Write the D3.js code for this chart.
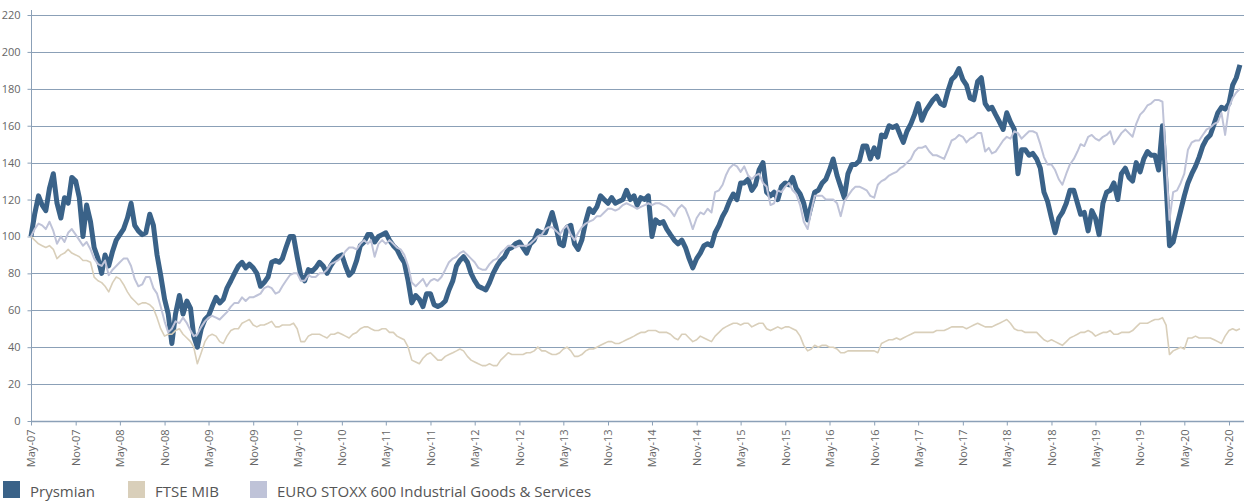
<!DOCTYPE html>
<html>
<head>
<meta charset="utf-8">
<script src="https://cdn.jsdelivr.net/npm/d3@7/dist/d3.min.js"></script>
<style>
    body { margin: 0; background: #fff; }
    text { font-family: "Open Sans", sans-serif; }
</style>
</head>
<body>
<div id="chart"></div>
<script>
const prysmian = [
    100,112,122,117,114,126,134,118,110,121,118,132,130,121,100,117,108,94,88,80,
    90,84,92,98,101,104,110,118,106,103,101,102,112,106,90,79,66,58,42,58,
    68,58,65,61,46,40,50,55,57,62,67,64,66,72,76,80,
    84,86,83,85,83,80,73,75,78,86,87,86,88,94,100,100,89,79,76,82,
    81,83,86,84,80,84,87,89,90,84,79,81,87,95,97,101,101,97,100,101,
    102,98,95,93,89,86,76,64,68,66,62,69,69,63,62,63,
    65,71,76,84,87,89,86,80,76,73,72,71,75,80,84,87,89,93,94,96,
    97,94,91,96,98,103,102,102,107,113,105,96,95,105,106,96,93,98,108,115,
    113,116,122,120,118,121,118,119,120,125,120,122,117,121,120,122,
    100,109,107,108,104,101,98,96,98,94,88,83,88,91,95,96,95,102,106,111,
    114,119,123,120,129,129,131,125,128,136,140,124,122,124,120,127,129,128,132,126,
    123,118,109,117,124,125,129,131,136,142,133,127,121,134,
    139,139,141,149,149,142,148,143,155,154,160,159,160,155,151,157,161,166,172,163,
    168,171,174,176,172,171,179,185,187,191,185,182,175,174,184,186,172,169,170,166,
    162,158,167,162,158,134,147,147,144,145,142,137,124,119,
    110,102,110,113,118,125,125,118,112,113,103,114,110,101,118,124,125,129,120,134,
    137,132,130,140,135,142,146,144,144,136,160,128,95,97,106,114,122,129,134,138,
    143,149,153,155,161,167,170,169,172,182,186,193
];

const ftseMib = [
    100,98,96,95,94,95,93,88,90,91,93,91,90,89,87,87,86,78,76,75,
    73,70,75,78,77,74,70,67,65,63,64,64,63,61,56,50,46,47,47,49,
    50,47,45,43,40,31,37,43,46,47,46,43,42,46,49,50,
    50,53,54,55,52,51,52,52,53,54,51,51,52,52,52,53,50,43,43,46,
    47,47,47,46,45,47,47,48,47,46,45,47,48,50,51,51,50,49,49,50,
    50,48,48,46,45,44,40,33,32,31,34,36,37,35,33,33,
    35,36,37,38,39,38,35,33,32,31,30,30,31,30,30,33,35,37,36,36,
    36,36,37,37,38,40,38,38,37,36,36,37,39,40,38,35,35,36,38,39,
    39,40,41,42,43,43,42,42,43,44,45,46,47,48,48,49,
    49,49,48,48,48,47,45,44,47,47,45,43,44,46,45,44,43,46,48,50,
    51,52,53,53,52,53,53,51,52,53,53,50,49,50,51,50,51,51,50,49,
    46,41,38,39,41,40,41,41,40,40,39,37,37,38,
    38,38,38,38,38,38,38,37,42,43,44,44,45,44,45,46,47,48,48,48,
    48,48,48,49,49,49,50,51,51,51,51,50,51,52,53,52,51,51,51,52,
    53,54,55,53,50,49,49,48,48,48,48,46,44,43,
    44,43,42,41,43,45,46,47,48,48,49,48,46,47,48,48,49,47,47,48,
    48,48,49,51,53,53,53,54,55,55,56,52,36,38,39,40,39,45,45,46,
    45,45,45,45,44,43,42,46,49,50,49,50
];

const euroStoxx = [
    100,104,107,106,104,108,103,96,100,97,102,104,101,98,95,97,93,88,85,84,
    87,79,82,84,86,88,88,84,77,73,74,78,78,72,69,62,54,48,50,54,
    53,56,53,49,46,47,51,54,56,57,56,55,57,59,62,64,
    64,67,65,67,67,68,69,72,73,72,69,70,73,76,79,80,80,76,76,79,
    78,78,80,80,82,85,86,87,89,92,94,94,93,96,98,96,98,89,96,98,
    96,98,96,94,93,90,84,75,73,75,77,73,76,77,76,78,
    82,86,88,89,91,92,90,88,86,83,82,82,85,87,88,91,93,95,95,94,
    95,95,95,96,98,100,101,104,105,105,103,101,104,106,101,98,102,105,107,108,
    109,111,111,113,115,115,114,115,117,118,117,116,115,116,117,118,
    117,118,118,117,116,114,111,115,117,115,110,104,110,113,112,115,113,124,125,128,
    133,137,139,138,135,138,133,131,133,134,129,127,117,118,125,124,127,129,125,123,
    117,108,104,114,122,122,122,120,120,120,118,111,119,122,
    125,127,127,126,125,122,121,128,130,131,133,134,135,137,138,140,142,146,148,148,
    149,146,144,144,143,142,147,152,153,155,154,151,153,154,156,156,146,148,145,146,
    149,152,154,153,157,156,153,155,157,157,156,150,143,139,
    139,136,131,128,134,139,142,146,150,149,154,155,153,152,154,155,157,150,153,156,
    158,156,154,161,166,168,171,172,174,174,173,140,109,124,125,129,134,147,151,152,
    152,155,158,159,161,162,167,155,170,175,178,180
];

const seriesNames = ["Prysmian", "FTSE MIB", "EURO STOXX 600 Industrial Goods & Services"];
const yTicks = [0, 20, 40, 60, 80, 100, 120, 140, 160, 180, 200, 220];

// one point on the 1st and one on the 16th of each month
const dates = prysmian.map((d, i) => new Date(2007, 4 + Math.floor(i / 2), i % 2 ? 16 : 1));

const width = 1244, height = 504;
const svg = d3.select("#chart").append("svg")
    .attr("width", width)
    .attr("height", height);

const x = d3.scaleTime()
    .domain([new Date(2007, 4, 1), new Date(2020, 10, 1)])
    .range([31, 1229]);

const y = d3.scaleLinear()
    .domain([0, 220])
    .range([421, 15]);

const color = d3.scaleOrdinal()
    .domain(seriesNames)
    .range(["#3a6288", "#d9cfba", "#bfc3d8"]);

const axisColor = "#8ba0b7";

// horizontal grid lines
svg.append("g")
    .selectAll("line")
    .data(yTicks.slice(1))
    .enter()
    .append("line")
    .attr("x1", 31)
    .attr("x2", width)
    .attr("y1", d => Math.round(y(d)) + 0.5)
    .attr("y2", d => Math.round(y(d)) + 0.5)
    .attr("stroke", axisColor)
    .attr("stroke-width", 1.2);

// y axis
const yAxis = svg.append("g")
    .attr("transform", "translate(31.5,0)")
    .call(d3.axisLeft(y).tickValues(yTicks).tickSize(4).tickSizeOuter(0).tickPadding(7));
yAxis.select(".domain").attr("stroke", axisColor).attr("d", "M0,10V421");
yAxis.selectAll(".tick line").attr("stroke", axisColor);
yAxis.selectAll("text")
    .attr("fill", "#666")
    .style("font-size", "11px");

// x axis
const monthTicks = d3.timeMonth.range(new Date(2007, 4, 1), new Date(2020, 10, 2), 6);
const xAxis = svg.append("g")
    .attr("transform", "translate(0,421.5)")
    .call(d3.axisBottom(x).tickValues(monthTicks).tickFormat(d3.timeFormat("%b-%y")).tickSize(4).tickSizeOuter(0));
xAxis.select(".domain").attr("stroke", axisColor).attr("stroke-width", 1.5).attr("d", "M31,0H" + width);
xAxis.selectAll(".tick line").attr("stroke", axisColor);
xAxis.selectAll("text")
    .attr("transform", "rotate(-90)")
    .attr("text-anchor", "end")
    .attr("x", -8)
    .attr("y", 0)
    .attr("dy", "0.35em")
    .attr("fill", "#666")
    .style("font-size", "11px");

// lines
const line = d3.line()
    .x((d, i) => x(dates[i]))
    .y(d => y(d));

const seriesData = [
    { name: "Prysmian", values: prysmian, width: 5 },
    { name: "FTSE MIB", values: ftseMib, width: 1.6 },
    { name: "EURO STOXX 600 Industrial Goods & Services", values: euroStoxx, width: 2 }
];

seriesData.forEach(s => {
    svg.append("path")
        .datum(s.values)
        .attr("d", line)
        .attr("fill", "none")
        .attr("stroke", color(s.name))
        .attr("stroke-width", s.width)
        .attr("stroke-linejoin", "round");
});

// legend
const legendX = [3, 128, 250];
const legend = svg.append("g");
seriesNames.forEach((name, i) => {
    legend.append("rect")
        .attr("x", legendX[i])
        .attr("y", 481)
        .attr("width", 17)
        .attr("height", 17)
        .attr("fill", color(name));

    legend.append("text")
        .attr("x", legendX[i] + 27)
        .attr("y", 497)
        .attr("fill", "#555")
        .style("font-size", "15px")
        .text(name);
});
</script>
</body>
</html>
